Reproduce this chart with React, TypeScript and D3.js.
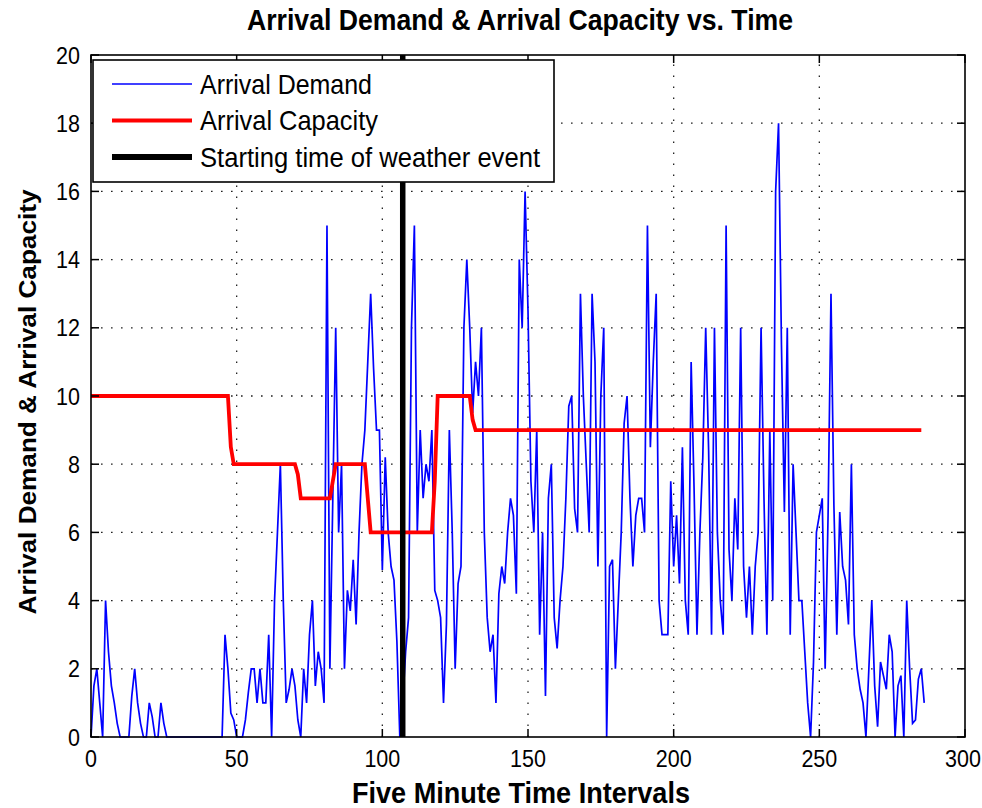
import React from 'react';
import * as d3 from 'd3';

// Arrival demand per five-minute interval (index = interval number)
const demand: number[] = [
  0, 1.5, 2, 1, 0, 4, 2.5, 1.5, 1, 0.4,
  0, 0, 0, 0, 1.2, 2, 1, 0.4, 0, 0,
  1, 0.6, 0, 0, 1, 0.4, 0, 0, 0, 0,
  0, 0, 0, 0, 0, 0, 0, 0, 0, 0,
  0, 0, 0, 0, 0, 0, 3, 2, 0.7, 0.5,
  0, 0, 0, 0.5, 1.3, 2, 2, 1, 2, 1,
  1, 3, 0, 4, 6, 8, 4, 1, 1.4, 2,
  1.5, 0.5, 0, 2, 1, 3, 4, 1.5, 2.5, 2,
  1, 15, 2, 7, 12, 6, 8, 2, 4.3, 3.7,
  5.2, 3.3, 6, 8, 9, 11, 13, 10.8, 9, 9,
  4.9, 8.2, 6, 5, 4.6, 2.8, 0, 1, 2.5, 3.5,
  12, 15, 6, 9, 7, 8, 7.5, 9, 4.3, 4,
  3.5, 1, 3.3, 9, 6, 2, 4.5, 5, 12, 14,
  12, 9.5, 11, 10, 12, 6, 3.5, 2.5, 3, 1,
  4.2, 5, 4.5, 6, 7, 6.5, 4.2, 14, 12, 16,
  12.5, 7.5, 6, 9, 3, 6, 1.2, 7, 8, 3.5,
  2.6, 4, 5, 7, 9.7, 10, 6.7, 6, 13, 10,
  8, 6, 13, 11, 5, 10, 12, 0, 5, 5.2,
  2, 4, 6, 9.2, 10, 7, 5, 6.5, 7, 7,
  6, 15, 8.5, 11, 13, 4, 3, 3, 3, 7.5,
  5, 6.5, 4.5, 8.5, 4, 3, 11, 7.3, 3, 6,
  8.2, 12, 8.4, 3, 12, 6, 4, 3, 15, 5.5,
  4, 7, 5.5, 12, 5, 3.5, 5, 3, 5, 6,
  12, 7, 3, 9, 4, 16, 18, 11.5, 6.6, 12,
  3, 8, 6, 4, 4, 2.5, 1, 0, 2.2, 6,
  6.5, 7, 2, 6.5, 13, 6.8, 3, 6.6, 5, 4.6,
  3.3, 8, 3, 2, 1.4, 1, 0, 2, 4, 1.5,
  0.3, 2.2, 1.8, 1.4, 3, 2.5, 0, 1.5, 1.8, 0,
  4, 2, 0.4, 0.5, 1.7, 2, 1,
];

// Arrival capacity: vertices of the step line (interval, capacity)
const capacityX: number[] = [0, 47, 48, 49, 70, 71, 72, 82, 83, 84, 94, 95, 96, 117, 118, 119, 130, 131, 132, 285];
const capacityY: number[] = [10, 10, 8.5, 8, 8, 7.7, 7, 7, 7.5, 8, 8, 7, 6, 6, 7.5, 10, 10, 9.3, 9, 9];

// Starting time of weather event
const weatherStart = 107;

const xTicks: number[] = [0, 50, 100, 150, 200, 250, 300];
const yTicks: number[] = [0, 2, 4, 6, 8, 10, 12, 14, 16, 18, 20];

const legendLabels: string[] = ['Arrival Demand', 'Arrival Capacity', 'Starting time of weather event'];
const legendColors: string[] = ['#0000ff', '#ff0000', '#000000'];
const legendWidths: number[] = [1.6, 3.8, 6];
const legendTextLen: number[] = [172, 178, 340];

const FONT = '"Liberation Sans", Arial, Helvetica, sans-serif';

export default function App() {
  const W = 982;
  const H = 808;
  const left = 91, right = 965, top = 55, bottom = 737;
  const x = d3.scaleLinear().domain([0, 300]).range([left, right]);
  const y = d3.scaleLinear().domain([0, 20]).range([bottom, top]);

  const demandPath = d3.line<number>().x((_, i) => x(i)).y((d) => y(d))(demand) || '';
  const capPath =
    d3
      .line<number>()
      .x((_, i) => x(capacityX[i]))
      .y((d) => y(d))(capacityY) || '';

  const stretch = 1.1;
  const tickLen = 8;

  return (
    <svg
      width={W}
      height={H}
      viewBox={`0 0 ${W} ${H}`}
      style={{ position: 'absolute', left: 0, top: 0, background: '#fff' }}
      fontFamily={FONT}
    >
      <rect x={0} y={0} width={W} height={H} fill="#fff" />
      {/* grid */}
      <g stroke="#222" strokeWidth={1.3}>
        {yTicks
          .filter((t) => t > 0 && t < 20)
          .map((t) => (
            <line key={'gy' + t} x1={left} x2={right} y1={y(t)} y2={y(t)} strokeDasharray="1.6 8.4" />
          ))}
        {xTicks
          .filter((t) => t > 0 && t < 300)
          .map((t) => (
            <line key={'gx' + t} x1={x(t)} x2={x(t)} y1={bottom} y2={top} strokeDasharray="1.6 9.4" />
          ))}
      </g>

      {/* data */}
      <path d={demandPath} fill="none" stroke="#0000ff" strokeWidth={1.7} strokeLinejoin="miter" />
      <path d={capPath} fill="none" stroke="#ff0000" strokeWidth={3.8} />
      <line x1={x(weatherStart)} x2={x(weatherStart)} y1={y(0)} y2={y(20)} stroke="#000" strokeWidth={5.5} />

      {/* frame */}
      <rect x={left} y={top} width={right - left} height={bottom - top} fill="none" stroke="#000" strokeWidth={1.6} />
      {/* ticks */}
      <g stroke="#000" strokeWidth={1.5}>
        {xTicks.map((t) => (
          <g key={'xt' + t}>
            <line x1={x(t)} x2={x(t)} y1={bottom} y2={bottom - tickLen} />
            <line x1={x(t)} x2={x(t)} y1={top} y2={top + tickLen} />
          </g>
        ))}
        {yTicks.map((t) => (
          <g key={'yt' + t}>
            <line x1={left} x2={left + tickLen} y1={y(t)} y2={y(t)} />
            <line x1={right} x2={right - tickLen} y1={y(t)} y2={y(t)} />
          </g>
        ))}
      </g>

      {/* tick labels */}
      <g fontSize={21.5} fill="#000">
        {xTicks.map((t) => (
          <text key={'xl' + t} transform={`translate(${x(t) - (t === 300 ? 2 : 0)},${bottom + 30}) scale(1,${stretch})`} textAnchor="middle">
            {t}
          </text>
        ))}
        {yTicks.map((t) => (
          <text key={'yl' + t} transform={`translate(${left - 11},${y(t) + 8.5}) scale(1,${stretch})`} textAnchor="end">
            {t}
          </text>
        ))}
      </g>

      {/* legend */}
      <rect x={93} y={60} width={461} height={122} fill="#fff" stroke="#000" strokeWidth={1.6} />
      {legendLabels.map((lab, i) => {
        const cy = 84 + i * 36.5;
        return (
          <g key={'lg' + i}>
            <line x1={112} x2={192} y1={cy} y2={cy} stroke={legendColors[i]} strokeWidth={legendWidths[i]} />
            <text
              transform={`translate(200,${cy + 9.5}) scale(1,${stretch})`}
              fontSize={25}
              textLength={legendTextLen[i]}
              lengthAdjust="spacingAndGlyphs"
            >
              {lab}
            </text>
          </g>
        );
      })}

      {/* title & axis labels */}
      <text
        transform={`translate(520,30) scale(1,${stretch})`}
        textAnchor="middle"
        fontWeight="bold"
        fontSize={27}
        textLength={546}
        lengthAdjust="spacingAndGlyphs"
      >
        Arrival Demand &amp; Arrival Capacity vs. Time
      </text>
      <text
        transform={`translate(521,803) scale(1,${stretch})`}
        textAnchor="middle"
        fontWeight="bold"
        fontSize={27}
        textLength={338}
        lengthAdjust="spacingAndGlyphs"
      >
        Five Minute Time Intervals
      </text>
      <text
        transform={`translate(36,402) rotate(-90)`}
        textAnchor="middle"
        fontWeight="bold"
        fontSize={24}
        textLength={425}
        lengthAdjust="spacingAndGlyphs"
      >
        Arrival Demand &amp; Arrival Capacity
      </text>
    </svg>
  );
}
